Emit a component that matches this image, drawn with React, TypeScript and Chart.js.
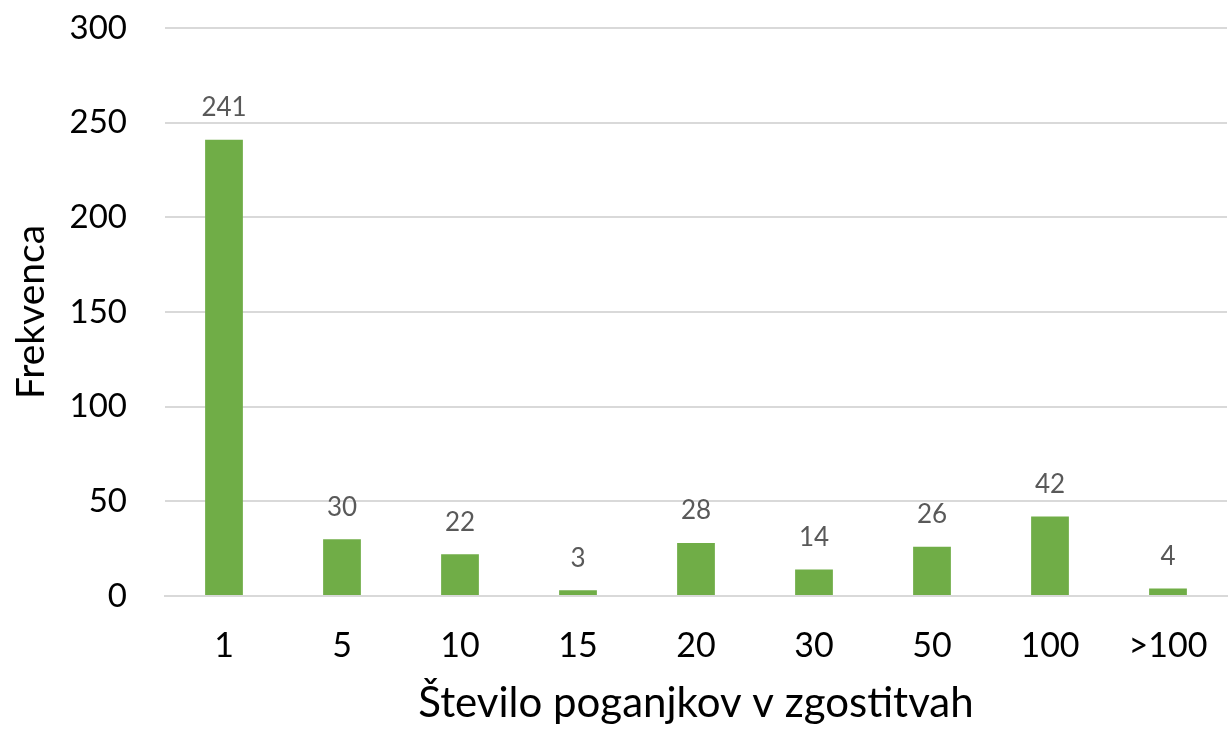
import React, { useEffect, useRef } from "react";
import { Chart, registerables } from "chart.js";

Chart.register(...registerables);

const categories = ["1", "5", "10", "15", "20", "30", "50", "100", ">100"];
const frequencies = [241, 30, 22, 3, 28, 14, 26, 42, 4];
const yTicks = [0, 50, 100, 150, 200, 250, 300];

const FONT = "Lato, 'Open Sans', sans-serif";

const valueLabels = {
  id: "valueLabels",
  afterDatasetsDraw(chart: any) {
    const ctx = chart.ctx;
    const meta = chart.getDatasetMeta(0);
    ctx.save();
    ctx.fillStyle = "#595959";
    ctx.font = `26px ${FONT}`;
    ctx.textAlign = "center";
    ctx.textBaseline = "middle";
    meta.data.forEach((bar: any, i: number) => {
      ctx.fillText(String(frequencies[i]), bar.x, bar.y - 32);
    });
    ctx.restore();
  },
};

export default function App() {
  const ref = useRef<HTMLCanvasElement>(null);
  useEffect(() => {
    if (!ref.current) return;
    const chart = new Chart(ref.current, {
      type: "bar",
      data: {
        labels: categories,
        datasets: [
          {
            data: frequencies,
            backgroundColor: "#70AD47",
            borderWidth: 0,
            barPercentage: 1,
            categoryPercentage: 0.32,
          },
        ],
      },
      options: {
        animation: false,
        responsive: false,
        maintainAspectRatio: false,
        layout: { padding: { top: 28, right: 3, left: 0, bottom: 0 } },
        plugins: { legend: { display: false }, tooltip: { enabled: false } },
        scales: {
          x: {
            grid: { display: false, drawTicks: false },
            border: { display: true, color: "#d9d9d9", width: 2 },
            ticks: { color: "#000", font: { family: FONT, size: 34 }, padding: 30 },
            title: {
              display: true,
              text: "Število poganjkov v zgostitvah",
              color: "#000",
              font: { family: FONT, size: 42 },
              padding: { top: 0, bottom: 0 },
            },
            afterFit: (s: any) => {
              s.height = 133;
              s.paddingTop = 0;
              s.paddingLeft = 0;
              s.paddingRight = 0;
            },
          },
          y: {
            min: 0,
            max: 300,
            afterBuildTicks: (s: any) => {
              s.ticks = yTicks.map((v) => ({ value: v }));
            },
            grid: { color: "#d9d9d9", lineWidth: 2, drawTicks: false },
            border: { display: false },
            ticks: { color: "#000", font: { family: FONT, size: 33 }, padding: 38 },
            title: {
              display: true,
              text: "Frekvenca",
              color: "#000",
              font: { family: FONT, size: 39 },
              padding: { top: 8, bottom: 0 },
            },
            afterFit: (s: any) => {
              s.width = 165;
              s.paddingTop = 0;
            },
          },
        },
      },
      plugins: [valueLabels],
    });
    return () => chart.destroy();
  }, []);
  return (
    <div style={{ position: "fixed", left: 0, top: 0, width: 1230, height: 729, background: "#fff" }}>
      <canvas ref={ref} width={1230} height={729} />
    </div>
  );
}
